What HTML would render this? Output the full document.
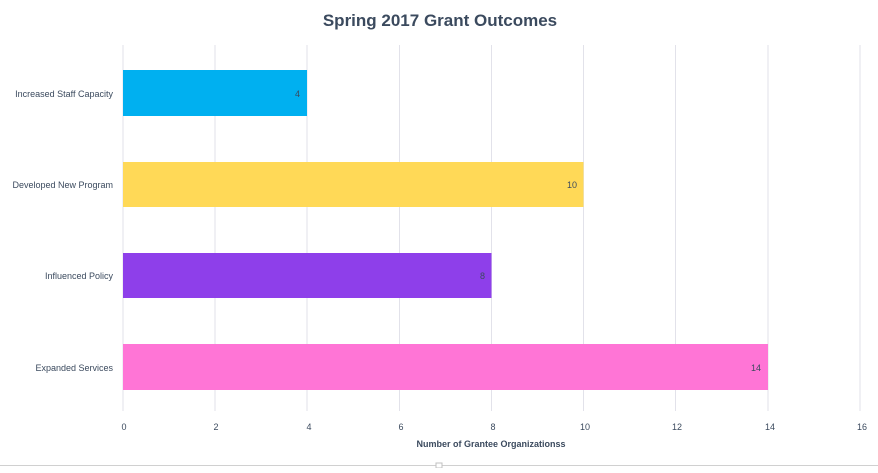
<!DOCTYPE html>
<html><head><style>
body{margin:0;background:#fff;}
svg text{font-family:"Liberation Sans",sans-serif;}
</style></head><body>
<svg width="878" height="468" xmlns="http://www.w3.org/2000/svg">
<rect width="878" height="468" fill="#fff"/>
<text x="440" y="26" text-anchor="middle" font-size="17" font-weight="bold" fill="#3b4a5e">Spring 2017 Grant Outcomes</text>
<g stroke="#e2e2ea" stroke-width="1">
<line x1="123" y1="45" x2="123" y2="411"/>
<line x1="215" y1="45" x2="215" y2="411"/>
<line x1="307" y1="45" x2="307" y2="411"/>
<line x1="399.5" y1="45" x2="399.5" y2="411"/>
<line x1="491.5" y1="45" x2="491.5" y2="411"/>
<line x1="583.5" y1="45" x2="583.5" y2="411"/>
<line x1="675.5" y1="45" x2="675.5" y2="411"/>
<line x1="768" y1="45" x2="768" y2="411"/>
<line x1="860" y1="45" x2="860" y2="411"/>
</g>
<rect x="123" y="70" width="184" height="46" fill="#00b0f0"/>
<rect x="123" y="162" width="460.5" height="45" fill="#ffd957"/>
<rect x="123" y="253" width="368.5" height="45" fill="#8e3fea"/>
<rect x="123" y="344" width="645" height="46" fill="#ff75d6"/>
<g font-size="9" fill="#3b4a5e" text-anchor="end">
<text x="300" y="97">4</text>
<text x="577" y="188">10</text>
<text x="485" y="279">8</text>
<text x="761" y="371">14</text>
<text x="113" y="97">Increased Staff Capacity</text>
<text x="113" y="188">Developed New Program</text>
<text x="113" y="279">Influenced Policy</text>
<text x="113" y="371">Expanded Services</text>
</g>
<g font-size="9" fill="#3b4a5e" text-anchor="middle">
<text x="124" y="430">0</text>
<text x="216" y="430">2</text>
<text x="309" y="430">4</text>
<text x="401" y="430">6</text>
<text x="493" y="430">8</text>
<text x="585" y="430">10</text>
<text x="677" y="430">12</text>
<text x="770" y="430">14</text>
<text x="862" y="430">16</text>
<text x="491" y="447" font-weight="bold">Number of Grantee Organizationss</text>
</g>
<line x1="0" y1="465.5" x2="878" y2="465.5" stroke="#d0d0d0"/>
<rect x="436" y="463" width="6" height="5" fill="#fff" stroke="#c0c0c0"/>
</svg>
</body></html>
